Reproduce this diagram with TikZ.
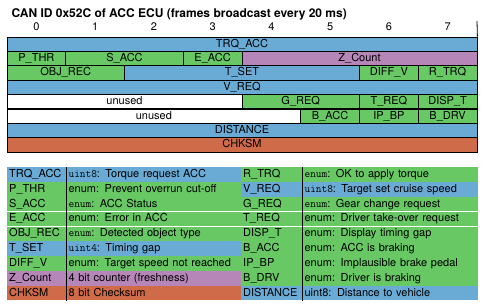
\documentclass[tikz,border=0pt]{standalone}
\usepackage{fontspec}
\setmainfont{TeX Gyre Heros}
\usetikzlibrary{positioning}

\definecolor{sigblue}{RGB}{106,171,214}
\definecolor{siggreen}{RGB}{103,200,100}
\definecolor{sigpurple}{RGB}{181,134,183}
\definecolor{sigred}{RGB}{208,107,73}

\begin{document}
\begin{tikzpicture}[
    x=1pt, y=-1pt,
    font=\fontsize{11}{13}\selectfont,
    field/.style={rectangle, draw=black, line width=0.8pt, inner sep=0pt, minimum height=14.375pt, text height=8pt, text depth=2pt, align=center},
    bit/.style={field, minimum width=58.75pt},
    key/.style={rectangle, inner ysep=0pt, inner xsep=2pt, minimum height=14.45pt, text height=8pt, text depth=2pt, anchor=north west, text width=55pt, align=left},
    desc/.style={key, text width=170pt},
]
\useasboundingbox (0,0) rectangle (484,306);

% title and bit numbers
\node[anchor=west, font=\fontsize{12}{14}\selectfont\bfseries] (TITLE) at (8,14) {CAN ID 0x52C of ACC ECU (frames broadcast every 20 ms)};
\foreach \b in {0,...,7}
  \node (B\b) at (36.4+58.75*\b, 27) {\b};
\coordinate (HDR) at (477,21);

% frame layout, one row per byte
\node[field, fill=sigblue, minimum width=470pt] (TRQ_ACC) at (242,44.2) {TRQ\_ACC};

\node[bit, fill=siggreen] (P_THR) at (36.4,58.6) {P\_THR};
\node[field, fill=siggreen, minimum width=117.5pt] (S_ACC) at (124.5,58.6) {S\_ACC};
\node[bit, fill=siggreen] (E_ACC) at (212.6,58.6) {E\_ACC};
\node[field, fill=sigpurple, minimum width=235pt] (Z_COUNT) at (359.5,58.6) {Z\_Count};

\node[field, fill=siggreen, minimum width=117.5pt] (OBJ_REC) at (65.75,72.9) {OBJ\_REC};
\node[field, fill=sigblue, minimum width=235pt] (T_SET) at (242,72.9) {T\_SET};
\node[bit, fill=siggreen] (DIFF_V) at (388.9,72.9) {DIFF\_V};
\node[bit, fill=siggreen] (R_TRQ) at (447.6,72.9) {R\_TRQ};

\node[field, fill=sigblue, minimum width=470pt] (V_REQ) at (242,87.3) {V\_REQ};

\node[field, fill=white, minimum width=235pt] (UNUSED_A) at (124.5,101.7) {unused};
\node[field, fill=siggreen, minimum width=117.5pt] (G_REQ) at (300.75,101.7) {G\_REQ};
\node[bit, fill=siggreen] (T_REQ) at (388.9,101.7) {T\_REQ};
\node[bit, fill=siggreen] (DISP_T) at (447.6,101.7) {DISP\_T};

\node[field, fill=white, minimum width=293.75pt] (UNUSED_B) at (153.9,116.1) {unused};
\node[bit, fill=siggreen] (B_ACC) at (330.1,116.1) {B\_ACC};
\node[bit, fill=siggreen] (IP_BP) at (388.9,116.1) {IP\_BP};
\node[bit, fill=siggreen] (B_DRV) at (447.6,116.1) {B\_DRV};

\node[field, fill=sigblue, minimum width=470pt] (DISTANCE) at (242,130.4) {DISTANCE};
\node[field, fill=sigred, minimum width=470pt] (CHKSM) at (242,144.8) {CHKSM};

\draw[line width=0.8pt] (HDR) -- (TRQ_ACC.north east);

% legend, left half
\node[key, fill=sigblue] (kTRQ) at (7,167) {TRQ\_ACC};
\node[desc, fill=sigblue, right=0pt of kTRQ] (dTRQ) {\texttt{uint8}: Torque request ACC};
\node[key, fill=siggreen, below=0pt of kTRQ] (kPTHR) {P\_THR};
\node[desc, fill=siggreen, right=0pt of kPTHR] (dPTHR) {enum: Prevent overrun cut-off};
\node[key, fill=siggreen, below=0pt of kPTHR] (kSACC) {S\_ACC};
\node[desc, fill=siggreen, right=0pt of kSACC] (dSACC) {\texttt{enum}: ACC Status};
\node[key, fill=siggreen, below=0pt of kSACC] (kEACC) {E\_ACC};
\node[desc, fill=siggreen, right=0pt of kEACC] (dEACC) {enum: Error in ACC};
\node[key, fill=siggreen, below=0pt of kEACC] (kOBJ) {OBJ\_REC};
\node[desc, fill=siggreen, right=0pt of kOBJ] (dOBJ) {\texttt{enum}: Detected object type};
\node[key, fill=sigblue, below=0pt of kOBJ] (kTSET) {T\_SET};
\node[desc, fill=sigblue, right=0pt of kTSET] (dTSET) {\texttt{uint4}: Timing gap};
\node[key, fill=siggreen, below=0pt of kTSET] (kDIFF) {DIFF\_V};
\node[desc, fill=siggreen, right=0pt of kDIFF] (dDIFF) {enum: Target speed not reached};
\node[key, fill=sigpurple, below=0pt of kDIFF] (kZC) {Z\_Count};
\node[desc, fill=sigpurple, right=0pt of kZC] (dZC) {4 bit counter (freshness)};
\node[key, fill=sigred, below=0pt of kZC] (kCHK) {CHKSM};
\node[desc, fill=sigred, right=0pt of kCHK] (dCHK) {8 bit Checksum};

% legend, right half
\node[key, fill=siggreen, text width=57pt] (kRTRQ) at (241,167) {R\_TRQ};
\node[desc, fill=siggreen, text width=171pt, right=0pt of kRTRQ] (dRTRQ) {\texttt{enum}: OK to apply torque};
\node[key, fill=sigblue, text width=57pt, below=0pt of kRTRQ] (kVREQ) {V\_REQ};
\node[desc, fill=sigblue, text width=171pt, right=0pt of kVREQ] (dVREQ) {\texttt{uint8}: Target set cruise speed};
\node[key, fill=siggreen, text width=57pt, below=0pt of kVREQ] (kGREQ) {G\_REQ};
\node[desc, fill=siggreen, text width=171pt, right=0pt of kGREQ] (dGREQ) {\texttt{enum}: Gear change request};
\node[key, fill=siggreen, text width=57pt, below=0pt of kGREQ] (kTREQ) {T\_REQ};
\node[desc, fill=siggreen, text width=171pt, right=0pt of kTREQ] (dTREQ) {enum: Driver take-over request};
\node[key, fill=siggreen, text width=57pt, below=0pt of kTREQ] (kDISP) {DISP\_T};
\node[desc, fill=siggreen, text width=171pt, right=0pt of kDISP] (dDISP) {enum: Display timing gap};
\node[key, fill=siggreen, text width=57pt, below=0pt of kDISP] (kBACC) {B\_ACC};
\node[desc, fill=siggreen, text width=171pt, right=0pt of kBACC] (dBACC) {enum: ACC is braking};
\node[key, fill=siggreen, text width=57pt, below=0pt of kBACC] (kIPBP) {IP\_BP};
\node[desc, fill=siggreen, text width=171pt, right=0pt of kIPBP] (dIPBP) {enum: Implausible brake pedal};
\node[key, fill=siggreen, text width=57pt, below=0pt of kIPBP] (kBDRV) {B\_DRV};
\node[desc, fill=siggreen, text width=171pt, right=0pt of kBDRV] (dBDRV) {enum: Driver is braking};
\node[key, fill=sigblue, text width=57pt, below=0pt of kBDRV] (kDIST) {DISTANCE};
\node[desc, fill=sigblue, text width=171pt, right=0pt of kDIST] (dDIST) {uint8: Distance to vehicle};

% column rules of the legend
\draw[line width=0.8pt] (kTRQ.north east) -- (kCHK.south east);
\draw[line width=0.8pt] (kRTRQ.north east) -- (kDIST.south east);
\end{tikzpicture}
\end{document}
